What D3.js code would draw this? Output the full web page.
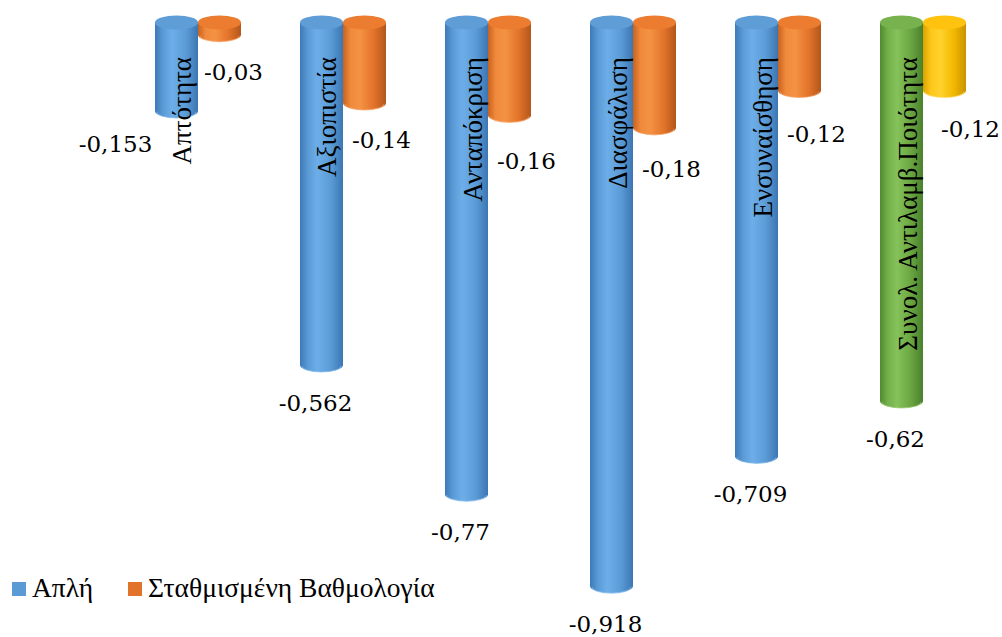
<!DOCTYPE html>
<html>
<head>
<meta charset="utf-8">
<script src="https://cdn.jsdelivr.net/npm/d3@7"></script>
<style>
  body { margin: 0; background: #fff; }
  svg { display: block; }
</style>
</head>
<body>
<svg width="1002" height="637"></svg>
<script>
const categories = ["Απτότητα", "Αξιοπιστία", "Ανταπόκριση", "Διασφάλιση", "Ενσυναίσθηση", "Συνολ. Αντιλαμβ.Ποιότητα"];
const seriesNames = ["Απλή", "Σταθμισμένη Βαθμολογία"];
const simple = [-0.153, -0.562, -0.77, -0.918, -0.709, -0.62];
const weighted = [-0.03, -0.14, -0.16, -0.18, -0.12, -0.12];
const simpleLabels = ["-0,153", "-0,562", "-0,77", "-0,918", "-0,709", "-0,62"];
const weightedLabels = ["-0,03", "-0,14", "-0,16", "-0,18", "-0,12", "-0,12"];

// point colours (last group is highlighted in the original)
const simpleColors = ["blue", "blue", "blue", "blue", "blue", "green"];
const weightedColors = ["orange", "orange", "orange", "orange", "orange", "yellow"];

// manual nudges of some data labels, as in the source chart
const simpleNudge = [[-55, -5], [0, 0], [0, 0], [0, 0], [0, 0], [0, 0]];
const weightedNudge = [[-3, -4], [0, -4], [0, 5], [0, 0], [0, 2], [9, -3]];

document.addEventListener("DOMContentLoaded", function() {

    const svg = d3.select("svg");

    const shades = {
        blue:   { stops: ["#3c79b9", "#5a9ad4", "#6daeea", "#5b9bd5", "#3b76b3"], cap: "#5f9dd6", rim: "#7fb6e8" },
        orange: { stops: ["#c9621f", "#f08a3c", "#f49243", "#e2732a", "#b2561a"], cap: "#ec7c30", rim: "#f6a062" },
        green:  { stops: ["#4f8a31", "#74b04a", "#85c25a", "#6aa541", "#4a802d"], cap: "#78b24e", rim: "#96cc6f" },
        yellow: { stops: ["#d9a300", "#ffc61a", "#ffd22e", "#f2b800", "#c89200"], cap: "#ffc20f", rim: "#ffd95a" }
    };

    const defs = svg.append("defs");
    Object.entries(shades).forEach(([key, s]) => {
        const g = defs.append("linearGradient")
            .attr("id", "grad-" + key)
            .attr("x1", "0%").attr("x2", "100%").attr("y1", "0%").attr("y2", "0%");
        [0, 0.18, 0.4, 0.72, 1].forEach((o, i) => {
            g.append("stop").attr("offset", o).attr("stop-color", s.stops[i]);
        });
    });

    const x0 = d3.scaleBand()
        .domain(categories)
        .range([155, 966])
        .paddingInner(0.407)
        .paddingOuter(0);

    const x1 = d3.scaleBand()
        .domain([0, 1])
        .range([0, x0.bandwidth()]);

    // bottom-centre of each cylinder
    const y = d3.scaleLinear()
        .domain([0, -1])
        .range([16, 637]);

    const capY = y(0) + 6.5;
    const ry = 7;

    function cylinder(g, cx, w, value, colorKey) {
        const rx = w / 2;
        const yb = y(value);
        const left = cx - rx, right = cx + rx;
        g.append("path")
            .attr("d", `M${left},${capY} L${left},${yb} A${rx},${ry} 0 0 0 ${right},${yb} L${right},${capY} Z`)
            .attr("fill", `url(#grad-${colorKey})`);
        g.append("path")
            .attr("d", `M${left + 2},${yb + 1} A${rx - 2},${ry - 1} 0 0 0 ${right - 2},${yb + 1}`)
            .attr("fill", "none")
            .attr("stroke", shades[colorKey].rim)
            .attr("stroke-width", 1.2)
            .attr("opacity", 0.7);
        g.append("ellipse")
            .attr("cx", cx).attr("cy", capY)
            .attr("rx", rx).attr("ry", ry)
            .attr("fill", shades[colorKey].cap);
    }

    const bars = svg.append("g");

    categories.forEach((c, i) => {
        const g = bars.append("g");
        const w = x1.bandwidth();
        // weighted series sits behind
        cylinder(g, x0(c) + x1(1) + w / 2, w, weighted[i], weightedColors[i]);
        cylinder(g, x0(c) + x1(0) + w / 2, w, simple[i], simpleColors[i]);
    });

    // category labels, written up the front of the first cylinder
    svg.append("g").selectAll("text")
        .data(categories)
        .enter()
        .append("text")
        .attr("transform", d => `translate(${x0(d) + x1(0) + x1.bandwidth() / 2 + 15},57) rotate(-90)`)
        .attr("text-anchor", "end")
        .attr("font-family", "Liberation Serif")
        .attr("font-size", 27)
        .attr("fill", "#000")
        .text(d => d);

    // data labels
    const labelFont = "DejaVu Serif";
    svg.append("g").selectAll("text")
        .data(categories)
        .enter()
        .append("text")
        .attr("x", (d, i) => x0(d) + x1(0) + x1.bandwidth() / 2 - 6 + simpleNudge[i][0])
        .attr("y", (d, i) => y(simple[i]) + ry + 39 + simpleNudge[i][1])
        .attr("text-anchor", "middle")
        .attr("font-family", labelFont)
        .attr("font-size", 23)
        .text((d, i) => simpleLabels[i]);

    svg.append("g").selectAll("text")
        .data(categories)
        .enter()
        .append("text")
        .attr("x", (d, i) => x0(d) + x1(1) + x1.bandwidth() / 2 + 17 + weightedNudge[i][0])
        .attr("y", (d, i) => y(weighted[i]) + ry + 42 + weightedNudge[i][1])
        .attr("text-anchor", "middle")
        .attr("font-family", labelFont)
        .attr("font-size", 23)
        .text((d, i) => weightedLabels[i]);

    // legend
    const legend = svg.append("g").attr("transform", "translate(12,582)");
    const legendX = [0, 116];
    const legendKeys = ["blue", "orange"];
    seriesNames.forEach((name, i) => {
        const item = legend.append("g").attr("transform", `translate(${legendX[i]},0)`);
        item.append("rect")
            .attr("width", 14).attr("height", 14)
            .attr("fill", shades[legendKeys[i]].stops[3]);
        item.append("text")
            .attr("x", 20).attr("y", 15)
            .attr("font-family", "Liberation Serif")
            .attr("font-size", 27.5)
            .text(name);
    });
});
</script>
</body>
</html>
